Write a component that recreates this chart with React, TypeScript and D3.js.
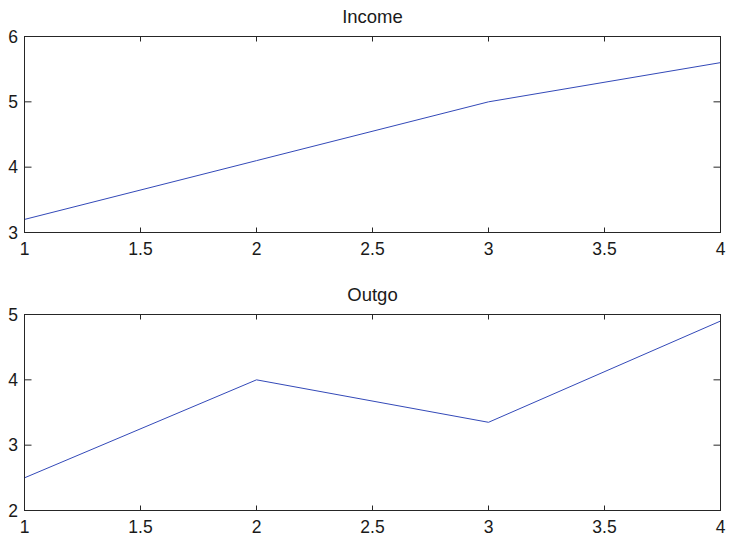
import React from "react";
import * as d3 from "d3";

const xValues = [1, 2, 3, 4];
const income = [3.2, 4.1, 5.0, 5.6];
const outgo = [2.5, 4.0, 3.35, 4.9];
const xTicks = [1, 1.5, 2, 2.5, 3, 3.5, 4];
const incomeTicks = [3, 4, 5, 6];
const outgoTicks = [2, 3, 4, 5];

const W = 730;
const H = 538;
const FONT = "Liberation Sans, Arial, Helvetica, sans-serif";
const AXIS = "#262626";
const LINE = "#3349b8";

type PanelProps = {
  title: string;
  values: number[];
  yDomain: [number, number];
  yTicks: number[];
  top: number;
  bottom: number;
};

function Panel({ title, values, yDomain, yTicks, top, bottom }: PanelProps) {
  const left = 24.5;
  const right = 720.5;
  const x = d3.scaleLinear().domain([1, 4]).range([left, right]);
  const y = d3.scaleLinear().domain(yDomain).range([bottom, top]);
  const line = d3
    .line<number>()
    .x((_, i) => x(xValues[i]))
    .y((d) => y(d));
  const xt = 5;
  const yt = 7;
  return (
    <g>
      <text
        x={(left + right) / 2}
        y={top - 14}
        textAnchor="middle"
        fontFamily={FONT}
        fontSize={18.5}
        fill="#1a1a1a"
      >
        {title}
      </text>
      <path d={line(values) || ""} fill="none" stroke={LINE} strokeWidth={1} />
      <rect
        x={left}
        y={top}
        width={right - left}
        height={bottom - top}
        fill="none"
        stroke={AXIS}
        strokeWidth={1}
      />
      {xTicks.map((t) => (
        <g key={"x" + t}>
          <line x1={x(t)} x2={x(t)} y1={bottom} y2={bottom - xt} stroke={AXIS} />
          <line x1={x(t)} x2={x(t)} y1={top} y2={top + xt} stroke={AXIS} />
          <text
            x={x(t)}
            y={bottom + 22.5}
            textAnchor="middle"
            fontFamily={FONT}
            fontSize={17.5}
            fill="#1a1a1a"
          >
            {t}
          </text>
        </g>
      ))}
      {yTicks.map((t) => (
        <g key={"y" + t}>
          <line x1={left} x2={left + yt} y1={y(t)} y2={y(t)} stroke={AXIS} />
          <line x1={right} x2={right - yt} y1={y(t)} y2={y(t)} stroke={AXIS} />
          <text
            x={18}
            y={y(t)}
            dy="0.36em"
            textAnchor="end"
            fontFamily={FONT}
            fontSize={17.5}
            fill="#1a1a1a"
          >
            {t}
          </text>
        </g>
      ))}
    </g>
  );
}

export default function App() {
  return (
    <svg
      width={W}
      height={H}
      style={{ position: "absolute", left: 0, top: 0, background: "#fff" }}
    >
      <rect width={W} height={H} fill="#fff" />
      <Panel
        title="Income"
        values={income}
        yDomain={[3, 6]}
        yTicks={incomeTicks}
        top={36.5}
        bottom={232.5}
      />
      <Panel
        title="Outgo"
        values={outgo}
        yDomain={[2, 5]}
        yTicks={outgoTicks}
        top={314.5}
        bottom={510.5}
      />
    </svg>
  );
}
